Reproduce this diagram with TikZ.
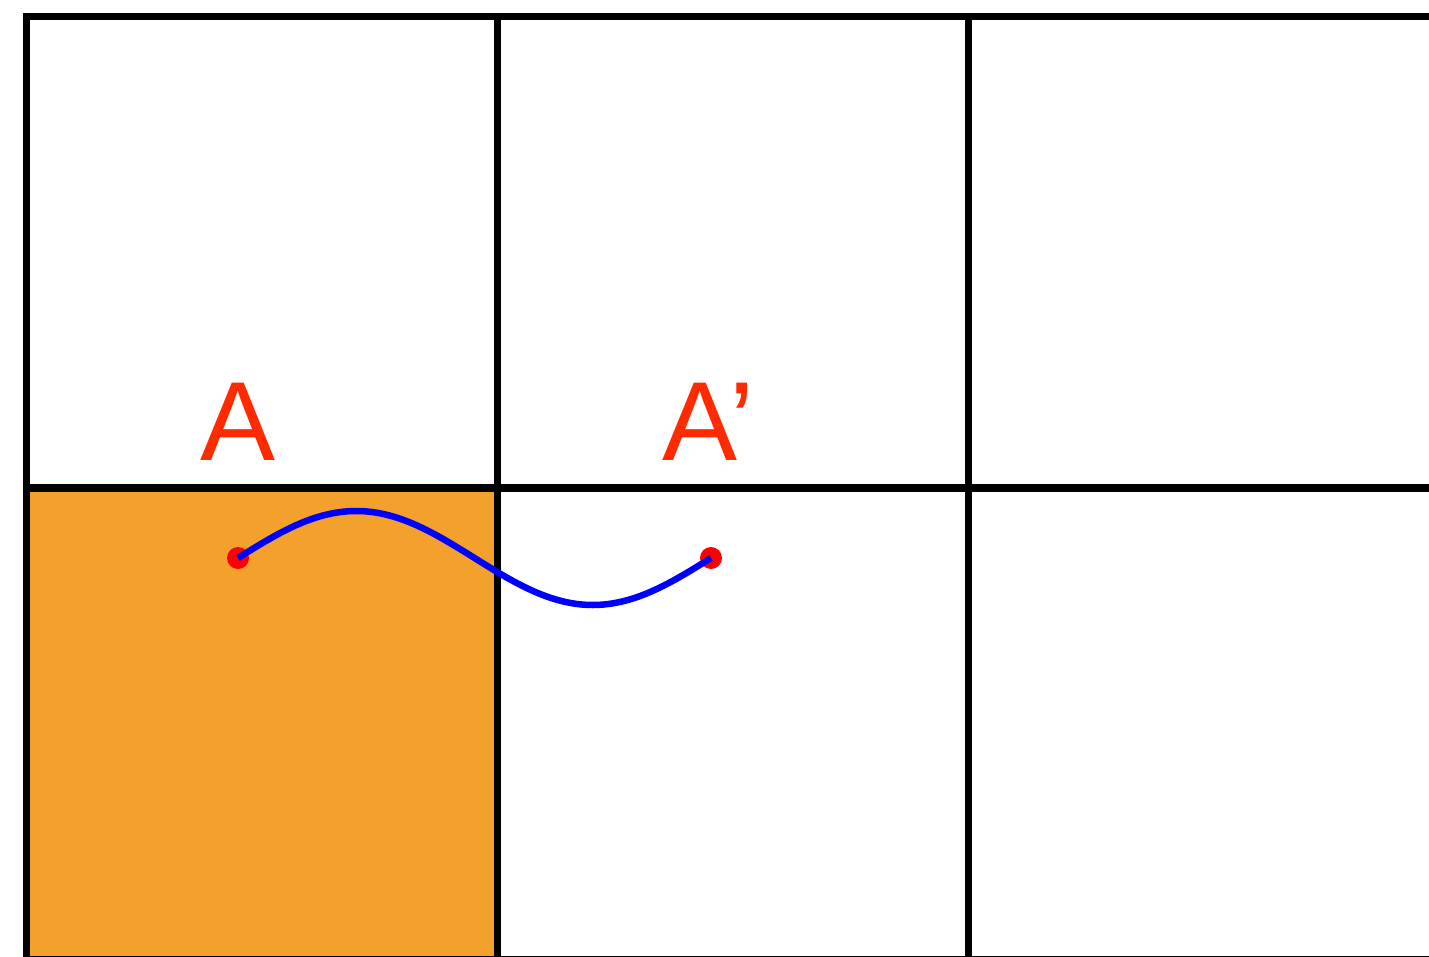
\documentclass[tikz,border=0pt]{standalone}
\usepackage{fontspec}
\setmainfont{Liberation Sans}
\usetikzlibrary{calc}
\definecolor{cellorange}{RGB}{244,160,45}
\definecolor{labelred}{RGB}{255,42,0}
\tikzset{
  gridline/.style={line width=0.075cm, black, line cap=rect},
  dot/.style={circle, fill=red, inner sep=0pt, minimum size=0.22cm},
  wave/.style={line width=0.065cm, blue, line cap=butt},
  lbl/.style={text=labelred, inner sep=0pt, anchor=base west,
    font=\fontsize{32}{38}\selectfont}
}
\begin{document}
\begin{tikzpicture}[x=0.1mm,y=-0.1mm]
  \useasboundingbox (0,0) rectangle (1429,957);

  % shaded cell
  \fill[cellorange] (26.5,488) rectangle (497.5,959.5);

  % grid
  \foreach \x in {26.5,497.5,968.5}
    \draw[gridline] (\x,16.5) -- (\x,1000);
  \foreach \y in {16.5,488,959.5}
    \draw[gridline] (26.5,\y) -- (1500,\y);

  \node[dot] (A) at (238,558) {};
  \node[dot] (Aprime) at (711,558) {};

  \node[lbl] (labA) at (200,460) {A};
  \node[lbl] (labAprime) at (662,460) {A’};

  \draw[wave] (A.center) sin ($(A)!.25!(Aprime)+(0,-47)$)
    cos ($(A)!.5!(Aprime)$) sin ($(A)!.75!(Aprime)+(0,47)$)
    cos (Aprime.center);
\end{tikzpicture}
\end{document}
